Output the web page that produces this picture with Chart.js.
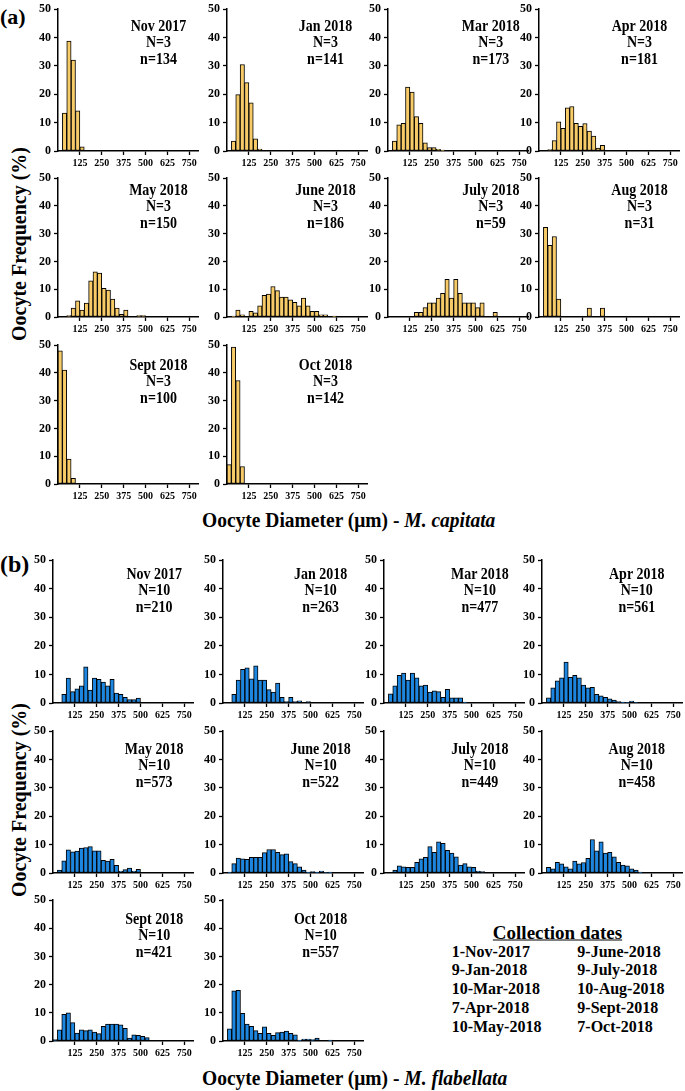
<!DOCTYPE html>
<html>
<head>
<meta charset="utf-8">
<script src="https://cdn.jsdelivr.net/npm/chart.js@4.4.0/dist/chart.umd.min.js"></script>
<style>
    body { margin: 0; background: #fff; width: 685px; height: 1091px; position: relative; overflow: hidden; font-family: "Liberation Serif", "Times New Roman", serif; color: #000; }
    canvas { position: absolute; }
    .t { position: absolute; font-weight: bold; white-space: nowrap; line-height: 1; }
</style>
</head>
<body>
<div class="t" style="left:0px;top:6px;font-size:22px;">(a)</div>
<div class="t" style="left:0px;top:552px;font-size:24px;">(b)</div>
<div class="t" style="left:19px;top:244px;font-size:20px;transform:translate(-50%,-50%) rotate(-90deg);">Oocyte Frequency (%)</div>
<div class="t" style="left:19px;top:800px;font-size:20px;transform:translate(-50%,-50%) rotate(-90deg);">Oocyte Frequency (%)</div>
<div class="t" style="left:202px;top:520px;font-size:19.5px;transform:translateY(-50%) scaleY(1.08);">Oocyte Diameter (μm) - <i>M. capitata</i></div>
<div class="t" style="left:202px;top:1078px;font-size:19.5px;transform:translateY(-50%) scaleY(1.08);">Oocyte Diameter (μm) - <i>M. flabellata</i></div>
<div id="legend"></div>
<script>
// 直方圖分箱: 每箱 25 µm (中心點)
const binCenters = [12.5, 37.5, 62.5, 87.5, 112.5, 137.5, 162.5, 187.5, 212.5, 237.5, 262.5, 287.5,
    312.5, 337.5, 362.5, 387.5, 412.5, 437.5, 462.5, 487.5, 512.5, 537.5, 562.5, 587.5,
    612.5, 637.5, 662.5, 687.5, 712.5, 737.5, 762.5, 787.5];
const xTickValues = [125, 250, 375, 500, 625, 750];
const months = ['Nov 2017', 'Jan 2018', 'Mar 2018', 'Apr 2018', 'May 2018',
    'June 2018', 'July 2018', 'Aug 2018', 'Sept 2018', 'Oct 2018'];
const capColonies = 3;
const flaColonies = 10;
const capCounts = [134, 141, 173, 181, 150, 186, 59, 31, 100, 142];
const flaCounts = [210, 263, 477, 561, 573, 522, 449, 458, 421, 557];
const collectionDates = ['1-Nov-2017', '9-Jan-2018', '10-Mar-2018', '7-Apr-2018', '10-May-2018',
    '9-June-2018', '9-July-2018', '10-Aug-2018', '9-Sept-2018', '7-Oct-2018'];

// M. capitata 頻率 (%)
const capNov17 = [0, 13.4, 38.8, 32.1, 14.2, 1.5];
const capJan18 = [0, 3.5, 19.9, 30.5, 24.1, 17.0, 4.3, 0.7];
const capMar18 = [0, 3.5, 9.2, 9.8, 22.5, 20.8, 12.1, 9.8, 2.9, 1.2, 1.2, 0.6, 0.3];
const capApr18 = [0, 0, 0.5, 3.7, 10.3, 8.0, 15.2, 15.7, 9.8, 8.7, 9.7, 7.0, 5.3, 1.0, 2.0];
const capMay18 = [0, 0, 0.5, 3.2, 5.8, 2.5, 5.0, 13.0, 16.3, 15.8, 10.3, 9.7, 6.5, 3.2, 1.0, 2.5, 0, 0, 0.5, 0.5];
const capJun18 = [0, 0.3, 2.5, 0.8, 0, 2.0, 1.5, 4.0, 7.8, 8.3, 11.0, 9.5, 7.2, 7.2, 6.2, 5.3, 4.0, 6.8, 4.0, 2.0, 2.0, 0.8, 0.8, 0, 0.3];
const capJul18 = [0, 0, 0, 0, 0, 0, 1.7, 1.7, 3.4, 5.1, 5.1, 6.8, 8.5, 13.6, 6.8, 13.6, 8.5, 5.1, 5.1, 5.1, 3.4, 5.1, 0, 0, 1.7];
const capAug18 = [0, 32.3, 25.8, 29.0, 6.5, 0, 0, 0, 0, 0, 0, 3.2, 0, 0, 3.2];
const capSep18 = [48.0, 41.0, 9.0, 2.0];
const capOct18 = [7.0, 49.3, 37.3, 6.3];

// M. flabellata 頻率 (%)
const flaNov17 = [0, 0, 3.0, 8.7, 4.0, 5.0, 6.0, 12.7, 4.5, 8.7, 8.3, 7.3, 6.0, 8.3, 3.5, 3.0, 2.0, 1.2, 1.2, 1.7];
const flaJan18 = [0, 0, 3.0, 8.0, 11.8, 12.3, 8.5, 13.0, 8.0, 8.0, 4.7, 3.8, 7.0, 2.0, 0.5, 2.0, 0.5, 0.8, 0, 0.5];
const flaMar18 = [0, 3.2, 6.0, 9.7, 10.5, 8.0, 10.5, 8.8, 6.0, 6.3, 3.8, 4.3, 4.0, 2.0, 4.8, 1.8, 1.8, 1.8, 0.3];
const flaApr18 = [0, 1.8, 5.3, 7.8, 8.8, 14.3, 9.0, 9.7, 8.8, 6.3, 5.3, 5.5, 3.0, 2.5, 2.0, 1.5, 1.0, 0.5, 0.3, 0.2, 0.7, 0.2];
const flaMay18 = [0, 1.0, 4.3, 8.2, 7.5, 7.7, 8.8, 9.0, 9.3, 7.8, 7.8, 4.5, 4.2, 4.8, 2.7, 0.7, 1.2, 1.7, 0.7, 1.3];
const flaJun18 = [0, 0.3, 3.3, 5.3, 5.0, 4.8, 5.5, 5.5, 5.5, 7.2, 8.3, 8.3, 7.3, 6.5, 6.8, 4.0, 3.3, 2.2, 1.0, 0.3, 0.5, 0.3, 0.7, 0.2, 0.3];
const flaJul18 = [0, 0, 1.0, 2.5, 2.2, 2.0, 2.0, 3.8, 5.0, 5.5, 9.3, 7.3, 11.0, 10.5, 8.0, 7.0, 5.7, 2.8, 3.3, 2.2, 2.0, 0.7, 0.5];
const flaAug18 = [0, 2.0, 1.5, 3.8, 3.2, 2.2, 1.5, 4.2, 3.2, 3.7, 5.2, 11.8, 7.8, 11.0, 7.0, 7.3, 5.7, 3.8, 2.8, 2.5, 1.5, 1.0, 0.3];
const flaSep18 = [0.5, 4.0, 9.5, 10.0, 6.5, 2.8, 4.0, 3.7, 4.0, 3.2, 2.6, 5.2, 6.0, 6.0, 6.0, 5.7, 4.5, 1.0, 2.2, 2.0, 1.7, 1.2];
const flaOct18 = [0, 4.3, 17.8, 18.0, 9.8, 6.0, 5.2, 3.7, 2.7, 5.0, 2.7, 2.0, 3.0, 3.2, 3.5, 2.7, 2.2, 0.3, 0.7, 0.7, 0.5, 1.0, 0, 0, 0.3];

const capSeries = [capNov17, capJan18, capMar18, capApr18, capMay18, capJun18, capJul18, capAug18, capSep18, capOct18];
const flaSeries = [flaNov17, flaJan18, flaMar18, flaApr18, flaMay18, flaJun18, flaJul18, flaAug18, flaSep18, flaOct18];

// 版面位置 (像素)
const capLayout = {
    cols: [58, 227, 388, 539], tops: [9, 178, 345], zeros: [151, 317, 484],
    textX: [158.5, 325.5, 490.8, 639.5], textY: [27, 190.7, 365.7], color: '#F7CB68'
};
const flaLayout = {
    cols: [53, 223, 384, 542], tops: [560, 731, 900], zeros: [703, 873, 1041],
    textX: [154.2, 320.6, 479.9, 636.8], textY: [575, 750, 920], color: '#1C86E0'
};
const PLOT_W = 140;

Chart.defaults.font.family = '"Liberation Serif", "Times New Roman", serif';
Chart.defaults.font.weight = 'bold';
Chart.defaults.color = '#000';

function buildPanel(values, layout, idx, title, colonies, count) {
    const row = Math.floor(idx / 4), col = idx % 4;
    const padL = 34, padT = 10, padR = 14, padB = 24;
    const left = layout.cols[col], top = layout.tops[row];
    const h = layout.zeros[row] - top;
    const cw = padL + PLOT_W + padR, ch = padT + h + padB;
    const canvas = document.createElement('canvas');
    canvas.width = cw;
    canvas.height = ch;
    canvas.style.left = (left - padL) + 'px';
    canvas.style.top = (top - padT) + 'px';
    canvas.style.width = cw + 'px';
    canvas.style.height = ch + 'px';
    document.body.appendChild(canvas);

    const lines = [title, 'N=' + colonies, 'n=' + count];
    const tx = layout.textX[col] - (left - padL);
    const ty = layout.textY[row] - (top - padT);
    const textPlugin = {
        id: 'panelText',
        afterDraw(chart) {
            const ctx = chart.ctx;
            ctx.save();
            ctx.fillStyle = '#000';
            ctx.font = 'bold 14px "Liberation Serif"';
            ctx.textAlign = 'center';
            ctx.textBaseline = 'middle';
            lines.forEach((t, i) => {
                ctx.save();
                ctx.translate(tx, ty + i * 16.4);
                ctx.scale(1, 1.12);
                ctx.fillText(t, 0, 0);
                ctx.restore();
            });
            ctx.restore();
        }
    };

    const points = values.map((v, i) => ({ x: binCenters[i], y: v > 0 ? v : null }));

    return new Chart(canvas, {
        type: 'bar',
        data: {
            datasets: [{
                data: points,
                backgroundColor: layout.color,
                borderColor: '#000',
                borderWidth: 1,
                borderSkipped: false,
                barPercentage: 1,
                categoryPercentage: 1
            }]
        },
        options: {
            responsive: false,
            animation: false,
            devicePixelRatio: 1,
            layout: { padding: { left: 0, top: padT, right: padR, bottom: 0 } },
            plugins: { legend: { display: false }, tooltip: { enabled: false } },
            scales: {
                x: {
                    type: 'linear', min: 0, max: 800, offset: false,
                    afterBuildTicks: s => { s.ticks = xTickValues.map(v => ({ value: v })); },
                    afterFit: s => { s.height = padB; },
                    grid: { drawOnChartArea: false, drawTicks: true, tickLength: 4, tickWidth: 1.3, tickColor: '#000', offset: false },
                    border: { display: true, color: '#000', width: 1.5 },
                    ticks: { font: { size: 10, weight: 'bold' }, color: '#000', padding: 2, maxRotation: 0, autoSkip: false }
                },
                y: {
                    min: 0, max: 50,
                    afterFit: s => { s.width = padL; },
                    grid: { drawOnChartArea: false, drawTicks: true, tickLength: 4, tickWidth: 1.3, tickColor: '#000' },
                    border: { display: true, color: '#000', width: 1.5 },
                    ticks: { stepSize: 10, font: { size: 12, weight: 'bold' }, color: '#000', padding: 3 }
                }
            }
        },
        plugins: [textPlugin]
    });
}

capSeries.forEach((vals, i) => buildPanel(vals, capLayout, i, months[i], capColonies, capCounts[i]));
flaSeries.forEach((vals, i) => buildPanel(vals, flaLayout, i, months[i], flaColonies, flaCounts[i]));

// 採集日期
const legend = document.getElementById('legend');
let html = '<div class="t" style="left:557.5px;top:931.7px;font-size:19px;text-decoration:underline;transform:translate(-50%,-50%);">Collection dates</div>';
const rowY = [951.7, 970.3, 989, 1007.7, 1026.7];
collectionDates.forEach((d, i) => {
    const x = i < 5 ? 451.7 : 577.3;
    const y = rowY[i % 5];
    html += `<div class="t" style="left:${x}px;top:${y}px;font-size:16px;transform:translateY(-50%);">${d}</div>`;
});
legend.innerHTML = html;
</script>
</body>
</html>
